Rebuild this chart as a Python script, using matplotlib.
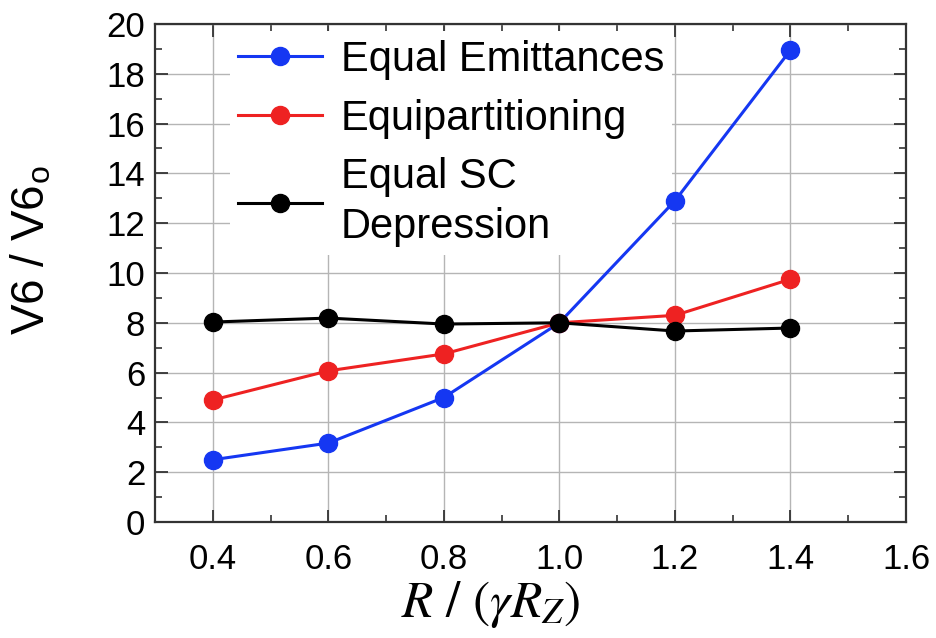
"""
plot.py

Recreate the V6 / V6o vs R / (gamma R_Z) comparison chart.
"""

import matplotlib
matplotlib.use("Agg")
import matplotlib.pyplot as plt
from matplotlib.ticker import MultipleLocator

# data
ratio = [0.4, 0.6, 0.8, 1.0, 1.2, 1.4]
equal_emittances = [2.5, 3.17, 5.0, 8.0, 12.9, 18.95]
equipartitioning = [4.9, 6.07, 6.75, 8.0, 8.3, 9.75]
equal_sc_depression = [8.03, 8.19, 7.95, 8.0, 7.67, 7.79]

series_labels = ["Equal Emittances", "Equipartitioning", "Equal SC\nDepression"]
series_colors = ["#1537f2", "#ee2222", "#000000"]
xtick_labels = ["0.4", "0.6", "0.8", "1.0", "1.2", "1.4", "1.6"]

plt.rcParams["font.family"] = ["Liberation Sans", "DejaVu Sans"]
plt.rcParams["mathtext.fontset"] = "stix"


def main():

    fig = plt.figure(figsize=(9.36, 6.38), dpi=100)
    ax = fig.add_axes([155 / 936, 1 - 522 / 638, 751 / 936, 498 / 638])

    for values, label, color in zip(
        [equal_emittances, equipartitioning, equal_sc_depression],
        series_labels,
        series_colors,
    ):
        ax.plot(ratio, values, color=color, lw=2.2, marker="o",
                markersize=13, label=label, zorder=3)

    ax.set_xlim(0.3, 1.6)
    ax.set_ylim(0, 20)
    ax.xaxis.set_minor_locator(MultipleLocator(0.1))
    ax.yaxis.set_major_locator(MultipleLocator(2))
    ax.yaxis.set_minor_locator(MultipleLocator(1))
    ax.set_xticks([float(t) for t in xtick_labels])
    ax.set_xticklabels(xtick_labels)

    ax.grid(True, which="major", color="#b5b5b5", lw=1.0)
    ax.tick_params(which="both", direction="in", top=True, right=True,
                   color="#333333", labelsize=25)
    ax.tick_params(which="major", length=9, width=1.3)
    ax.tick_params(which="minor", length=5, width=1.2)
    ax.tick_params(axis="x", which="major", pad=15)
    ax.tick_params(axis="y", which="major", pad=7)
    for spine in ax.spines.values():
        spine.set_color("#333333")
        spine.set_linewidth(1.6)

    ax.set_ylabel("V6 / V6$_\\mathregular{o}$", fontsize=33)
    ax.yaxis.set_label_coords(-0.135, 0.546)
    ax.set_xlabel("$R\\ /\\ (\\gamma R_Z)$", fontsize=37)
    ax.xaxis.set_label_coords(0.447, -0.115)

    leg = ax.legend(loc="upper left", bbox_to_anchor=(0.1, 0.985),
                    fontsize=30, frameon=True, facecolor="white",
                    edgecolor="none", framealpha=1, handlelength=2.0,
                    handletextpad=0.45, labelspacing=0.45, borderpad=0.2,
                    borderaxespad=0.0)
    for text in leg.get_texts():
        text.set_linespacing(1.3)
    leg.set_zorder(2)

    fig.savefig("out.png", dpi=100)
    plt.close(fig)


if __name__ == "__main__":
    main()
